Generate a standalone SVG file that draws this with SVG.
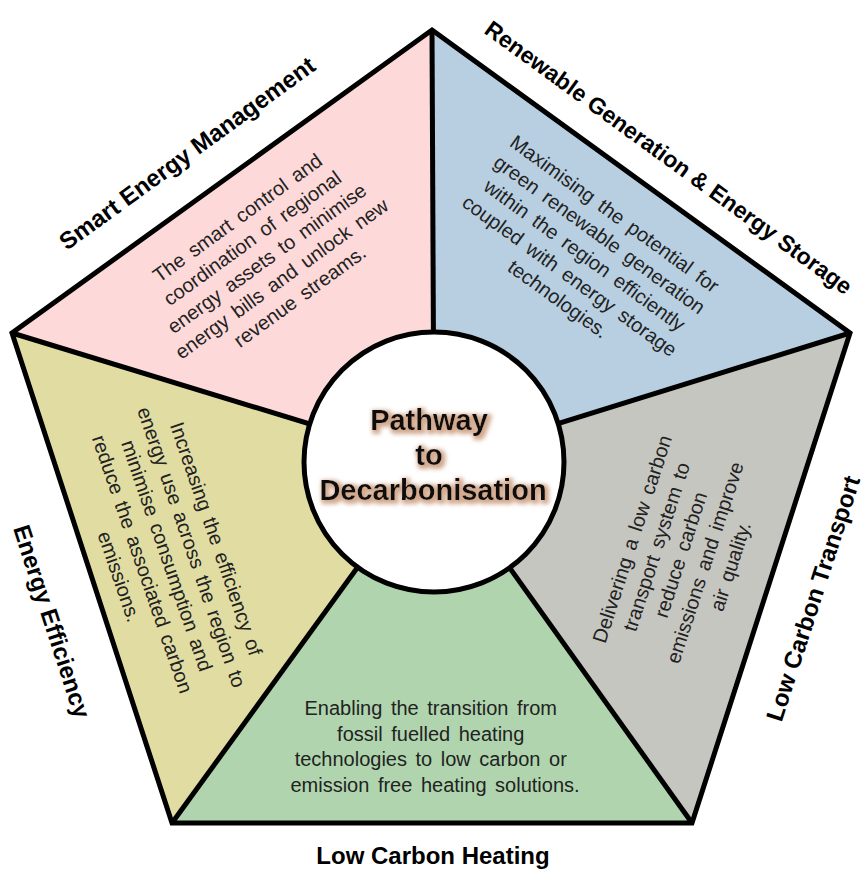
<svg xmlns="http://www.w3.org/2000/svg" width="865" height="870" viewBox="0 0 865 870">
<defs>
<style>
.lbl{font-family:"Liberation Sans",Arial,sans-serif;font-weight:bold;font-size:24px;fill:#000;text-anchor:middle}
.body{font-family:"Liberation Sans",Arial,sans-serif;font-size:20px;fill:#222;text-anchor:middle;word-spacing:3px}
.ctr{font-family:"Liberation Sans",Arial,sans-serif;font-weight:bold;font-size:29px;fill:#111;text-anchor:middle}
.edge{fill:none;stroke:#000;stroke-width:5}
</style>
<filter id="glow" x="-20%" y="-30%" width="140%" height="160%">
<feMorphology in="SourceAlpha" operator="dilate" radius="1.5" result="d"/>
<feGaussianBlur in="d" stdDeviation="2.2" result="b"/>
<feOffset in="b" dx="1.5" dy="1.5" result="o"/>
<feFlood flood-color="#d2a98e"/>
<feComposite in2="o" operator="in" result="s"/>
<feMerge><feMergeNode in="s"/><feMergeNode in="SourceGraphic"/></feMerge>
</filter>
</defs>
<rect width="865" height="870" fill="#fff"/>

<g id="smart-energy-management">
<polygon points="434,462 12,333 432,30" fill="#fdd9d9"/>
<text class="lbl" transform="translate(192,160) rotate(-36)">Smart Energy Management</text>
<text class="body" transform="translate(245,221) rotate(-36)">
<tspan x="0" y="0">The smart control and</tspan>
<tspan x="0" y="25">coordination of regional</tspan>
<tspan x="0" y="50">energy assets to minimise</tspan>
<tspan x="0" y="75">energy bills and unlock new</tspan>
<tspan x="0" y="100">revenue streams.</tspan>
</text>
</g>

<g id="renewable-generation">
<polygon points="434,462 432,30 850,333" fill="#b8cfe1"/>
<text class="lbl" style="font-size:23px" transform="translate(664,164) rotate(36)">Renewable Generation &amp; Energy Storage</text>
<text class="body" transform="translate(614,222) rotate(36)">
<tspan x="0" y="0">Maximising the potential for</tspan>
<tspan x="0" y="25.5">green renewable generation</tspan>
<tspan x="0" y="51">within the region efficiently</tspan>
<tspan x="0" y="76.5">coupled with energy storage</tspan>
<tspan x="0" y="102">technologies.</tspan>
</text>
</g>

<g id="low-carbon-transport">
<polygon points="434,462 850,333 692,823" fill="#c6c6c1"/>
<text class="lbl" transform="translate(821,601) rotate(-72)">Low Carbon Transport</text>
<text class="body" transform="translate(640,537) rotate(-72)">
<tspan x="0" y="0">Delivering a low carbon</tspan>
<tspan x="0" y="25.5">transport system to</tspan>
<tspan x="0" y="51">reduce carbon</tspan>
<tspan x="0" y="76.5">emissions and improve</tspan>
<tspan x="0" y="102">air quality.</tspan>
</text>
</g>

<g id="low-carbon-heating">
<polygon points="434,462 692,823 172,823" fill="#b0d5ae"/>
<text class="lbl" x="433" y="864">Low Carbon Heating</text>
<text class="body">
<tspan x="435" y="715">Enabling the transition from</tspan>
<tspan x="435" y="741">fossil fuelled heating</tspan>
<tspan x="435" y="766">technologies to low carbon or</tspan>
<tspan x="435" y="792">emission free heating solutions.</tspan>
</text>
</g>

<g id="energy-efficiency">
<polygon points="434,462 172,823 12,333" fill="#e1dda2"/>
<text class="lbl" transform="translate(44,624) rotate(72)">Energy Efficiency</text>
<text class="body" transform="translate(211,545) rotate(71)">
<tspan x="0" y="0">Increasing the efficiency of</tspan>
<tspan x="0" y="26">energy use across the region to</tspan>
<tspan x="0" y="52">minimise consumption and</tspan>
<tspan x="0" y="78">reduce the associated carbon</tspan>
<tspan x="0" y="104">emissions.</tspan>
</text>
</g>

<g id="connectors">
<polygon class="edge" points="432,30 850,333 692,823 172,823 12,333"/>
<line class="edge" x1="434" y1="462" x2="432" y2="30"/>
<line class="edge" x1="434" y1="462" x2="850" y2="333"/>
<line class="edge" x1="434" y1="462" x2="692" y2="823"/>
<line class="edge" x1="434" y1="462" x2="172" y2="823"/>
<line class="edge" x1="434" y1="462" x2="12" y2="333"/>
</g>

<g id="pathway-to-decarbonisation">
<circle cx="434" cy="462" r="130" fill="#fff" stroke="#000" stroke-width="5"/>
<text class="ctr" filter="url(#glow)">
<tspan x="433" y="430">Pathway</tspan>
<tspan x="433" y="465">to</tspan>
<tspan x="433" y="500">Decarbonisation</tspan>
</text>
</g>
</svg>
